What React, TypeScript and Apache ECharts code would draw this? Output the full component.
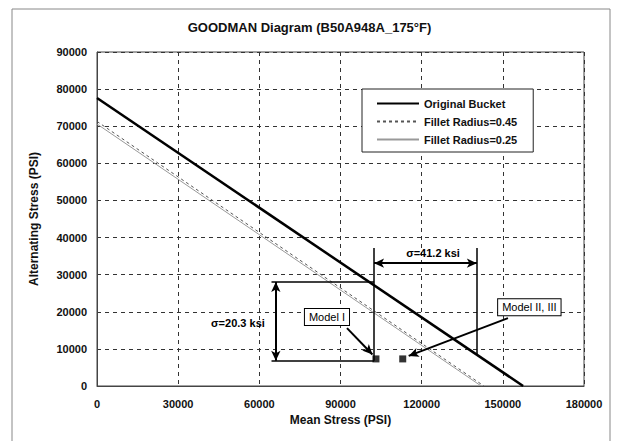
import React, { useEffect, useRef } from "react";
import * as echarts from "echarts";

// ---- data ----
const titleText = "GOODMAN Diagram (B50A948A_175°F)";
const xAxisName = "Mean Stress (PSI)";
const yAxisName = "Alternating Stress (PSI)";
const seriesNames = ["Original Bucket", "Fillet Radius=0.45", "Fillet Radius=0.25"];

const originalBucket = [[0, 77600], [157500, 0]];
const fillet045 = [[0, 71300], [143000, 0]];
const fillet025 = [[0, 70600], [142000, 0]];

const modelPoints = [[103100, 7300], [113000, 7300]];

const bracketLines = [
  [[102400, 37200], [102400, 6800]],
  [[140400, 37200], [140400, 8400]],
  [[64500, 28000], [102400, 28000]],
  [[64500, 6800], [102400, 6800]],
];
const doubleArrows = [
  [[102400, 33100], [140400, 33100]],
  [[66100, 28000], [66100, 6800]],
];
const pointerArrows = [
  [[92400, 15600], [101800, 8500]],
  [[151900, 18300], [115200, 8100]],
];
const sigmaNotes = [
  { name: "σ=41.2 ksi", value: [124200, 35900] },
  { name: "σ=20.3 ksi", value: [52100, 17000] },
];
const modelNotes = [
  { name: "Model I", value: [85000, 18600] },
  { name: "Model II, III", value: [159800, 21200] },
];

const FONT = "Liberation Sans, Arial, sans-serif";

export default function App() {
  const ref = useRef<HTMLDivElement>(null);
  useEffect(() => {
    if (!ref.current) return;
    const chart = echarts.init(ref.current, null, { renderer: "svg" });
    const seg = (pairs: number[][][]) =>
      pairs.map((p) => [{ coord: p[0] }, { coord: p[1] }]);
    const noteLabel = {
      show: true,
      position: "inside",
      formatter: "{b}",
      fontFamily: FONT,
      fontSize: 11,
      color: "#000",
      textBorderWidth: 0,
      opacity: 1,
    };
    chart.setOption({
      animation: false,
      backgroundColor: "#fff",
      textStyle: { fontFamily: FONT },
      title: {
        text: titleText,
        left: "center",
        top: 16,
        textStyle: { fontFamily: FONT, fontSize: 13, fontWeight: "bold", color: "#111" },
      },
      graphic: [
        {
          type: "rect",
          shape: { x: 12, y: 9, width: 598, height: 440 },
          style: { fill: "none", stroke: "#888", lineWidth: 1 },
          silent: true,
        },
      ],
      legend: {
        orient: "vertical",
        left: 362,
        top: 89,
        padding: [9, 16, 7, 14],
        itemGap: 7,
        itemWidth: 42,
        itemHeight: 10,
        borderColor: "#222",
        borderWidth: 1,
        backgroundColor: "#fff",
        itemStyle: { opacity: 0 },
        textStyle: { fontFamily: FONT, fontSize: 11, fontWeight: "bold", color: "#111" },
        data: seriesNames,
      },
      grid: { left: 97, right: 35, top: 52, bottom: 55, show: true, borderColor: "#444", borderWidth: 1 },
      xAxis: {
        type: "value",
        min: 0,
        max: 180000,
        interval: 30000,
        name: xAxisName,
        nameLocation: "middle",
        nameGap: 27,
        nameTextStyle: { fontFamily: FONT, fontSize: 12, fontWeight: "bold", color: "#111" },
        axisLine: { lineStyle: { color: "#444" } },
        axisTick: { show: false },
        axisLabel: {
          margin: 12,
          fontFamily: FONT,
          fontSize: 11,
          fontWeight: "bold",
          color: "#111",
          formatter: (v: number) => String(v),
        },
        splitLine: { show: true, lineStyle: { color: "#333", type: [4, 4], width: 1 } },
      },
      yAxis: {
        type: "value",
        min: 0,
        max: 90000,
        interval: 10000,
        name: yAxisName,
        nameLocation: "middle",
        nameGap: 57,
        nameTextStyle: { fontFamily: FONT, fontSize: 12, fontWeight: "bold", color: "#111" },
        axisLine: { show: true, lineStyle: { color: "#444" } },
        axisTick: { show: false },
        axisLabel: {
          margin: 10,
          fontFamily: FONT,
          fontSize: 11,
          fontWeight: "bold",
          color: "#111",
          formatter: (v: number) => String(v),
        },
        splitLine: { show: true, lineStyle: { color: "#333", type: [4, 4], width: 1 } },
      },
      series: [
        {
          name: seriesNames[0],
          type: "line",
          data: originalBucket,
          symbol: "none",
          lineStyle: { color: "#000", width: 2.5 },
          itemStyle: { color: "#000" },
        },
        {
          name: seriesNames[1],
          type: "line",
          data: fillet045,
          symbol: "none",
          lineStyle: { color: "#555", width: 1, type: [3, 3] },
          itemStyle: { color: "#555" },
        },
        {
          name: seriesNames[2],
          type: "line",
          data: fillet025,
          symbol: "none",
          lineStyle: { color: "#999", width: 1 },
          itemStyle: { color: "#999" },
        },
        {
          name: "models",
          type: "scatter",
          data: modelPoints,
          symbol: "rect",
          symbolSize: 7,
          itemStyle: { color: "#000" },
          z: 5,
        },
        {
          name: "brackets",
          type: "line",
          data: [],
          markLine: {
            silent: true,
            symbol: ["none", "none"],
            label: { show: false },
            lineStyle: { color: "#000", width: 1.5, type: "solid" },
            data: seg(bracketLines),
          },
        },
        {
          name: "dblArrows",
          type: "line",
          data: [],
          markLine: {
            silent: true,
            symbol: ["arrow", "arrow"],
            symbolSize: [7, 10],
            label: { show: false },
            lineStyle: { color: "#000", width: 2, type: "solid" },
            data: seg(doubleArrows),
          },
        },
        {
          name: "pointers",
          type: "line",
          data: [],
          markLine: {
            silent: true,
            symbol: ["none", "arrow"],
            symbolSize: [7, 10],
            label: { show: false },
            lineStyle: { color: "#000", width: 2, type: "solid" },
            data: seg(pointerArrows),
          },
        },
        {
          name: "sigmaNotes",
          type: "scatter",
          data: sigmaNotes,
          symbolSize: 0,
          itemStyle: { color: "#000", opacity: 1 },
          label: { ...noteLabel, fontWeight: "bold" },
          z: 6,
        },
        {
          name: "modelNotes",
          type: "scatter",
          data: modelNotes,
          symbolSize: 0,
          itemStyle: { color: "#000", opacity: 1 },
          label: {
            ...noteLabel,
            backgroundColor: "#fff",
            borderColor: "#000",
            borderWidth: 1,
            padding: [3, 4, 2, 4],
          },
          z: 6,
        },
      ],
    });
    return () => chart.dispose();
  }, []);
  return <div ref={ref} style={{ width: 619, height: 441, position: "absolute", left: 0, top: 0 }} />;
}
